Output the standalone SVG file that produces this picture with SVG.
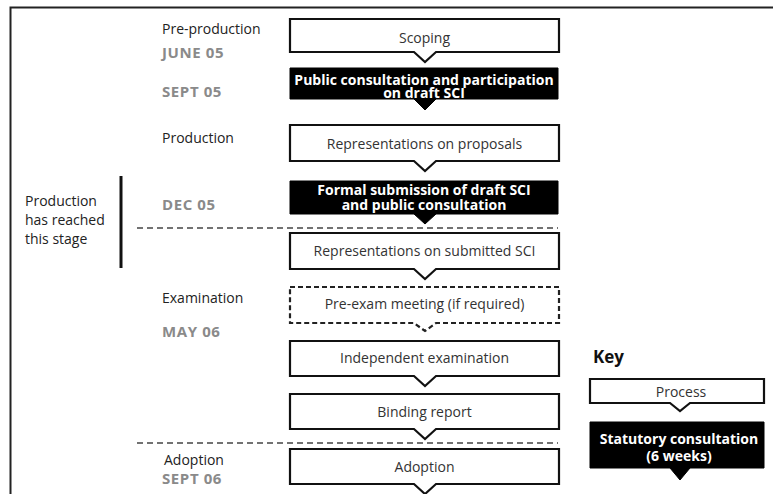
<svg xmlns="http://www.w3.org/2000/svg" width="773" height="494" viewBox="0 0 773 494">
<style>
  text { font-family: "Open Sans", "Noto Sans", "DejaVu Sans", sans-serif; }
  .lbl { font-size: 14px; fill: #222; }
  .date { font-size: 15px; font-weight: bold; fill: #8a8a8a; letter-spacing: 0.6px; }
  .proc { fill: #fff; stroke: #111; stroke-width: 2.2; }
  .dash { fill: #fff; stroke: #222; stroke-width: 2.2; stroke-dasharray: 5 3; }
  .stat { fill: #000; stroke: #000; stroke-width: 1; }
  .pt { font-size: 14px; fill: #333; text-anchor: middle; }
  .st { font-size: 14px; font-weight: bold; fill: #fff; text-anchor: middle; }
  .sep { stroke: #444; stroke-width: 1.3; stroke-dasharray: 6 4; fill: none; }
</style>
<rect width="773" height="494" fill="#fff"/>
<g id="frame">
  <path d="M10.5,494 V7.5 H773" fill="none" stroke="#222" stroke-width="2"/>
</g>
<g id="labels">
  <text class="lbl" x="162" y="34">Pre-production</text>
  <text class="date" x="162" y="58">JUNE 05</text>
  <text class="date" x="162" y="97">SEPT 05</text>
  <text class="lbl" x="162" y="143">Production</text>
  <text class="date" x="162" y="210">DEC 05</text>
  <text class="lbl" x="162" y="303">Examination</text>
  <text class="date" x="162" y="337">MAY 06</text>
  <text class="lbl" x="164" y="465">Adoption</text>
  <text class="date" x="162" y="484">SEPT 06</text>
</g>
<g id="stage-note">
  <text class="lbl" x="25" y="206">Production</text>
  <text class="lbl" x="25" y="225">has reached</text>
  <text class="lbl" x="25" y="244">this stage</text>
  <line x1="121" y1="176" x2="121" y2="268" stroke="#111" stroke-width="3"/>
</g>
<g id="connectors">
  <line class="sep" x1="137" y1="228" x2="558" y2="228"/>
  <line class="sep" x1="137" y1="443" x2="558" y2="443"/>
</g>
<g id="scoping">
  <path class="proc" d="M290,19 H559 V52 H436 L425,62 L414,52 H290 Z"/>
  <text class="pt" x="424.5" y="43">Scoping</text>
</g>
<g id="public-consultation">
  <path class="stat" d="M290,68 H558 V99 H436 L425,110 L414,99 H290 Z"/>
  <text class="st" x="424" y="84.5">Public consultation and participation</text>
  <text class="st" x="424" y="98">on draft SCI</text>
</g>
<g id="representations-proposals">
  <path class="proc" d="M290,125 H559 V161 H436 L425,171 L414,161 H290 Z"/>
  <text class="pt" x="424.5" y="149">Representations on proposals</text>
</g>
<g id="formal-submission">
  <path class="stat" d="M290,181 H558 V214 H436 L425,224 L414,214 H290 Z"/>
  <text class="st" x="424" y="195">Formal submission of draft SCI</text>
  <text class="st" x="424" y="209.5">and public consultation</text>
</g>
<g id="representations-submitted">
  <path class="proc" d="M290,233 H559 V269 H436 L425,279 L414,269 H290 Z"/>
  <text class="pt" x="424.5" y="256">Representations on submitted SCI</text>
</g>
<g id="pre-exam">
  <path class="dash" d="M290,287 H559 V323 H436 L425,331 L414,323 H290 Z"/>
  <text class="pt" x="424.5" y="309">Pre-exam meeting (if required)</text>
</g>
<g id="independent-examination">
  <path class="proc" d="M290,341 H559 V376 H436 L425,386 L414,376 H290 Z"/>
  <text class="pt" x="424.5" y="363">Independent examination</text>
</g>
<g id="binding-report">
  <path class="proc" d="M290,394 H559 V429 H436 L425,439 L414,429 H290 Z"/>
  <text class="pt" x="424.5" y="417">Binding report</text>
</g>
<g id="adoption">
  <path class="proc" d="M290,449 H559 V484 H436 L425,494 L414,484 H290 Z"/>
  <text class="pt" x="424.5" y="472">Adoption</text>
</g>
<g id="key">
  <text x="593" y="363" font-size="17" font-weight="bold" fill="#111">Key</text>
  <path class="proc" d="M590,379 H764 V403 H690 L680,411 L670,403 H590 Z"/>
  <text class="pt" x="681" y="397">Process</text>
  <path class="stat" d="M590,422 H764 V468 H690 L680,480 L670,468 H590 Z"/>
  <text class="st" x="679" y="444" font-size="15">Statutory consultation</text>
  <text class="st" x="679" y="461" font-size="15">(6 weeks)</text>
</g>
</svg>
